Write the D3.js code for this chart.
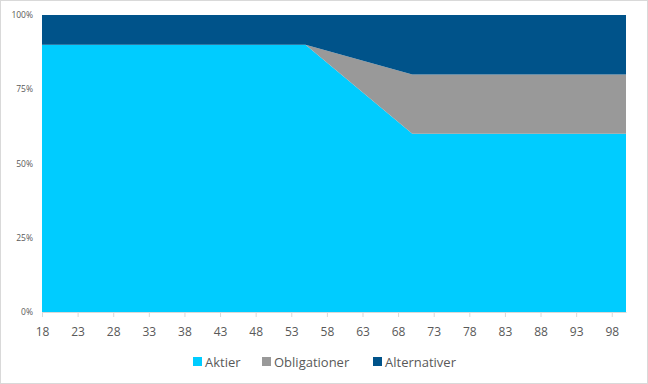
<!DOCTYPE html>
<html><head><meta charset="utf-8">
<script src="https://cdn.jsdelivr.net/npm/d3@7"></script>
<style>body{margin:0;background:#fff}svg{display:block}</style>
</head><body>
<script>
const ages = [18, 55, 70, 100];
const aktier = [0.90, 0.90, 0.60, 0.60];
const obligationer = [0.00, 0.00, 0.20, 0.20];
const alternativer = [0.10, 0.10, 0.20, 0.20];
const xTicks = [18, 23, 28, 33, 38, 43, 48, 53, 58, 63, 68, 73, 78, 83, 88, 93, 98];
const yTicks = [0, 0.25, 0.5, 0.75, 1];
const seriesNames = ["Aktier", "Obligationer", "Alternativer"];
const colors = ["#00CCFF", "#999999", "#00538A"];

const W = 648, H = 384;
const svg = d3.select("body").append("svg").attr("width", W).attr("height", H);
svg.append("rect").attr("x",0.5).attr("y",0.5).attr("width",W-1).attr("height",H-1)
  .attr("fill","#fff").attr("stroke","#d9d9d9");

const x = d3.scaleLinear().domain([18, 100]).range([42, 626]);
const y = d3.scaleLinear().domain([0, 1]).range([312, 15]);

const table = ages.map((a, i) => ({age: a, Aktier: aktier[i], Obligationer: obligationer[i], Alternativer: alternativer[i]}));
const stacked = d3.stack().keys(seriesNames)(table);
const area = d3.area().x(d => x(d.data.age)).y0(d => y(d[0])).y1(d => y(d[1]));

svg.append("g").selectAll("path").data(stacked).join("path")
  .attr("d", area).attr("fill", (d, i) => colors[i]);

// x axis
const xg = svg.append("g").attr("transform", "translate(0,312)")
  .call(d3.axisBottom(x).tickValues(xTicks).tickFormat(d3.format("d")).tickSize(5).tickSizeOuter(0));
xg.select(".domain").attr("stroke", "#d9d9d9");
xg.selectAll(".tick line").attr("stroke", "#d9d9d9");
xg.selectAll(".tick text").attr("fill", "#595959").attr("font-family", "'Open Sans', sans-serif")
  .attr("font-size", "12px").attr("dy", "0").attr("y", 24);

// y axis labels
const yg = svg.append("g").attr("transform", "translate(33,0)")
  .call(d3.axisLeft(y).tickValues(yTicks).tickFormat(d3.format(".0%")).tickSize(0));
yg.select(".domain").remove();
yg.selectAll(".tick text").attr("fill", "#595959").attr("font-family", "'Open Sans', sans-serif")
  .attr("font-size", "8.5px").attr("x", 0);

// legend
const legendX = [193, 262, 373];
const lg = svg.append("g");
seriesNames.forEach((n, i) => {
  lg.append("rect").attr("x", legendX[i]).attr("y", 357).attr("width", 9).attr("height", 9).attr("fill", colors[i]);
  lg.append("text").attr("x", legendX[i] + 12).attr("y", 366.5).text(n)
    .attr("fill", "#595959").attr("font-family", "'Open Sans', sans-serif").attr("font-size", "13px");
});
</script>
</body></html>
